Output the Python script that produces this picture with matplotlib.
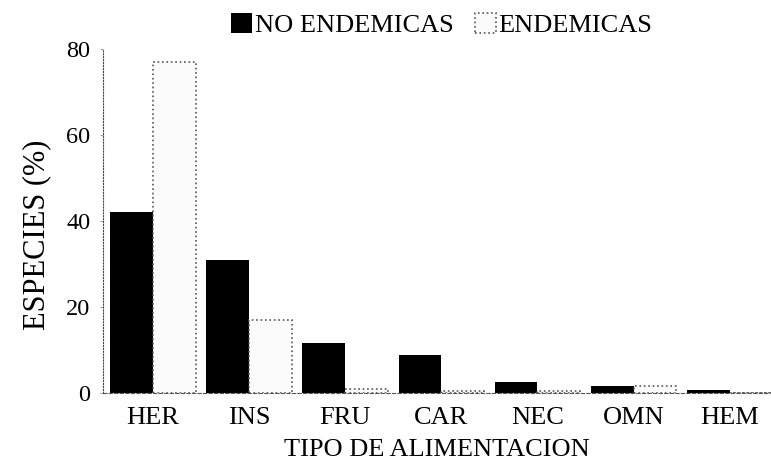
import matplotlib

matplotlib.use("Agg")
import matplotlib.pyplot as plt
import numpy as np

# Porcentaje de especies por tipo de alimentacion
categorias = ["HER", "INS", "FRU", "CAR", "NEC", "OMN", "HEM"]
no_endemicas = [42, 31, 11.7, 8.8, 2.6, 1.7, 0.7]
endemicas = [77, 17, 0.9, 0.5, 0.5, 1.7, 0]

plt.rcParams["font.family"] = ["Liberation Serif", "DejaVu Serif"]

fig = plt.figure(figsize=(7.71, 4.67), dpi=100)
ax = fig.add_axes([0.1336, 0.1585, 0.8664, 0.7366])

x = np.arange(len(categorias))
ancho = 0.445

ax.bar(x - ancho / 2, no_endemicas, ancho, color="black", label="NO ENDEMICAS")
ax.bar(
    x + ancho / 2,
    endemicas,
    ancho,
    facecolor="#fbfbfb",
    edgecolor="#555555",
    linestyle=":",
    linewidth=1.2,
    label="ENDEMICAS",
)

ax.set_xlim(-0.52, 6.43)
ax.set_ylim(0, 80)
ax.set_yticks([0, 20, 40, 60, 80])
ax.set_xticks(x)
ax.set_xticklabels(categorias)

ax.tick_params(axis="x", length=0, pad=10, labelsize=19)
ax.tick_params(axis="y", length=2, width=0.6, color="#888888", pad=7, labelsize=17.5)

ax.spines["top"].set_visible(False)
ax.spines["right"].set_visible(False)
ax.spines["left"].set_linestyle(":")
ax.spines["left"].set_color("#444444")
ax.spines["bottom"].set_linestyle((0, (3, 2)))
ax.spines["bottom"].set_color("#555555")
ax.spines["bottom"].set_linewidth(0.8)

ax.set_xlabel("TIPO DE ALIMENTACION", fontsize=19, labelpad=7)
ax.set_ylabel("ESPECIES (%)", fontsize=22)
ax.yaxis.set_label_coords(-0.078, 0.46)

fig.legend(
    loc="center",
    bbox_to_anchor=(0.573, 0.947),
    ncol=2,
    frameon=False,
    fontsize=19,
    handlelength=0.8,
    handleheight=0.8,
    handletextpad=0.1,
    columnspacing=0.8,
)

fig.savefig("out.png", dpi=100)
